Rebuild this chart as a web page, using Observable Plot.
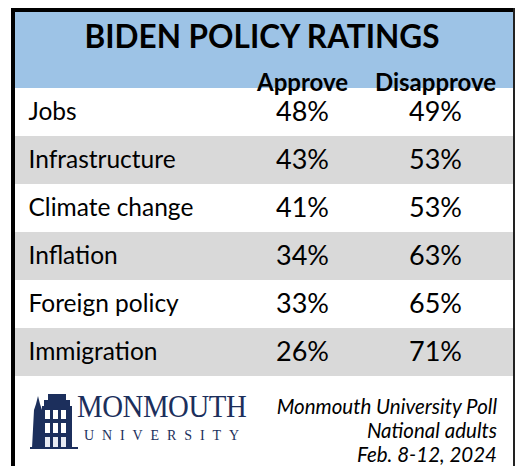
<!DOCTYPE html>
<html>
<head>
<meta charset="utf-8">
<script src="https://cdn.jsdelivr.net/npm/d3@7"></script>
<script src="https://cdn.jsdelivr.net/npm/@observablehq/plot@0.6"></script>
<style>
  html, body { margin: 0; padding: 0; background: #fff; }
  #wrap { position: relative; width: 516px; height: 466px; overflow: hidden; background: #fff; font-family: Lato, "Open Sans", sans-serif; }
  #header { position: absolute; left: 15px; top: 12px; width: 498px; height: 76px; background: #9dc3e6; }
  #title { position: absolute; left: 13px; top: 14px; width: 498px; text-align: center; font-weight: 700; font-size: 31.5px; line-height: 44px; color: #000; }
  #chart { position: absolute; left: 0; top: 0; }
  .bt { position: absolute; background: #000; }
  #logo { position: absolute; left: 30px; top: 390px; }
  #mon { position: absolute; left: 77px; top: 391px; font-family: "Liberation Serif", "DejaVu Serif", serif; font-size: 31px; line-height: 32px; color: #1c2f5c; letter-spacing: -0.5px; transform: scaleX(0.93); transform-origin: left; }
  #uni { position: absolute; left: 84px; top: 427px; font-family: "Liberation Serif", "DejaVu Serif", serif; font-size: 14px; line-height: 18px; color: #1c2f5c; letter-spacing: 7.9px; }
  #caption { position: absolute; right: 19px; top: 394px; text-align: right; font-style: italic; font-size: 20.5px; line-height: 24px; color: #000; }
</style>
</head>
<body>
<div id="wrap">
  <div id="header"></div>
  <div id="title">BIDEN POLICY RATINGS</div>
  <div id="chart"></div>
  <div class="bt" style="left:11px; top:8px; width:502px; height:4px;"></div>
  <div class="bt" style="left:11px; top:8px; width:4px; height:458px;"></div>
  <div class="bt" style="left:513px; top:8px; width:1.5px; height:458px; background:#222;"></div>
  <svg id="logo" width="48" height="60" viewBox="0 0 48 60">
    <path d="M2 58 L4 20 L6 14 L8 6 L10 14 L12 20 L13 58 Z" fill="#1c2f5c"/>
    <rect x="12" y="16" width="30" height="42" fill="#1c2f5c"/>
    <rect x="14" y="10" width="26" height="6" fill="#1c2f5c"/>
    <rect x="18" y="4" width="18" height="6" fill="#1c2f5c"/>
    <rect x="15" y="20" width="5" height="9" fill="#fff"/>
    <rect x="23" y="20" width="5" height="9" fill="#fff"/>
    <rect x="31" y="20" width="5" height="9" fill="#fff"/>
    <rect x="15" y="33" width="5" height="10" fill="#fff"/>
    <rect x="23" y="33" width="5" height="10" fill="#fff"/>
    <rect x="31" y="33" width="5" height="10" fill="#fff"/>
    <rect x="15" y="47" width="5" height="11" fill="#e8ebf2"/>
    <rect x="23" y="47" width="5" height="11" fill="#e8ebf2"/>
    <rect x="31" y="47" width="5" height="11" fill="#e8ebf2"/>
    <rect x="0" y="57" width="48" height="2" fill="#1c2f5c"/>
  </svg>
  <div id="mon">MONMOUTH</div>
  <div id="uni">UNIVERSITY</div>
  <div id="caption">Monmouth University Poll<br>National adults<br>Feb. 8-12, 2024</div>
</div>
<script>
const rows = ["Jobs", "Infrastructure", "Climate change", "Inflation", "Foreign policy", "Immigration"];
const approve = [48, 43, 41, 34, 33, 26];
const disapprove = [49, 53, 53, 63, 65, 71];
const columns = ["Approve", "Disapprove"];

const table = rows.map((row, i) => ({row, i, Approve: approve[i], Disapprove: disapprove[i]}));
const long = table.flatMap(d => columns.map(c => ({row: d.row, column: c, value: d[c]})));

const chart = Plot.plot({
  width: 516,
  height: 380,
  marginTop: 87,
  marginBottom: 4,
  marginLeft: 15,
  marginRight: 3,
  x: {domain: columns, range: [235, 501], axis: null},
  y: {domain: rows, axis: null, padding: 0},
  style: {background: "transparent", fontFamily: "Lato, 'Open Sans', sans-serif", color: "#000"},
  marks: [
    Plot.cell(table.filter(d => d.i % 2 === 1), {y: "row", fill: "#d9d9d9"}),
    Plot.text(table, {y: "row", text: "row", frameAnchor: "left", textAnchor: "start", dx: 13, fontSize: 24.5, fill: "#000"}),
    Plot.text(long, {x: "column", y: "row", text: d => d.value + "%", fontSize: 27, fill: "#000"}),
    Plot.axisX({anchor: "top", tickSize: 0, tickPadding: 0, dy: 3, fontSize: 24, fontWeight: "bold", label: null, fill: "#000"})
  ]
});
document.getElementById("chart").appendChild(chart);
</script>
</body>
</html>
